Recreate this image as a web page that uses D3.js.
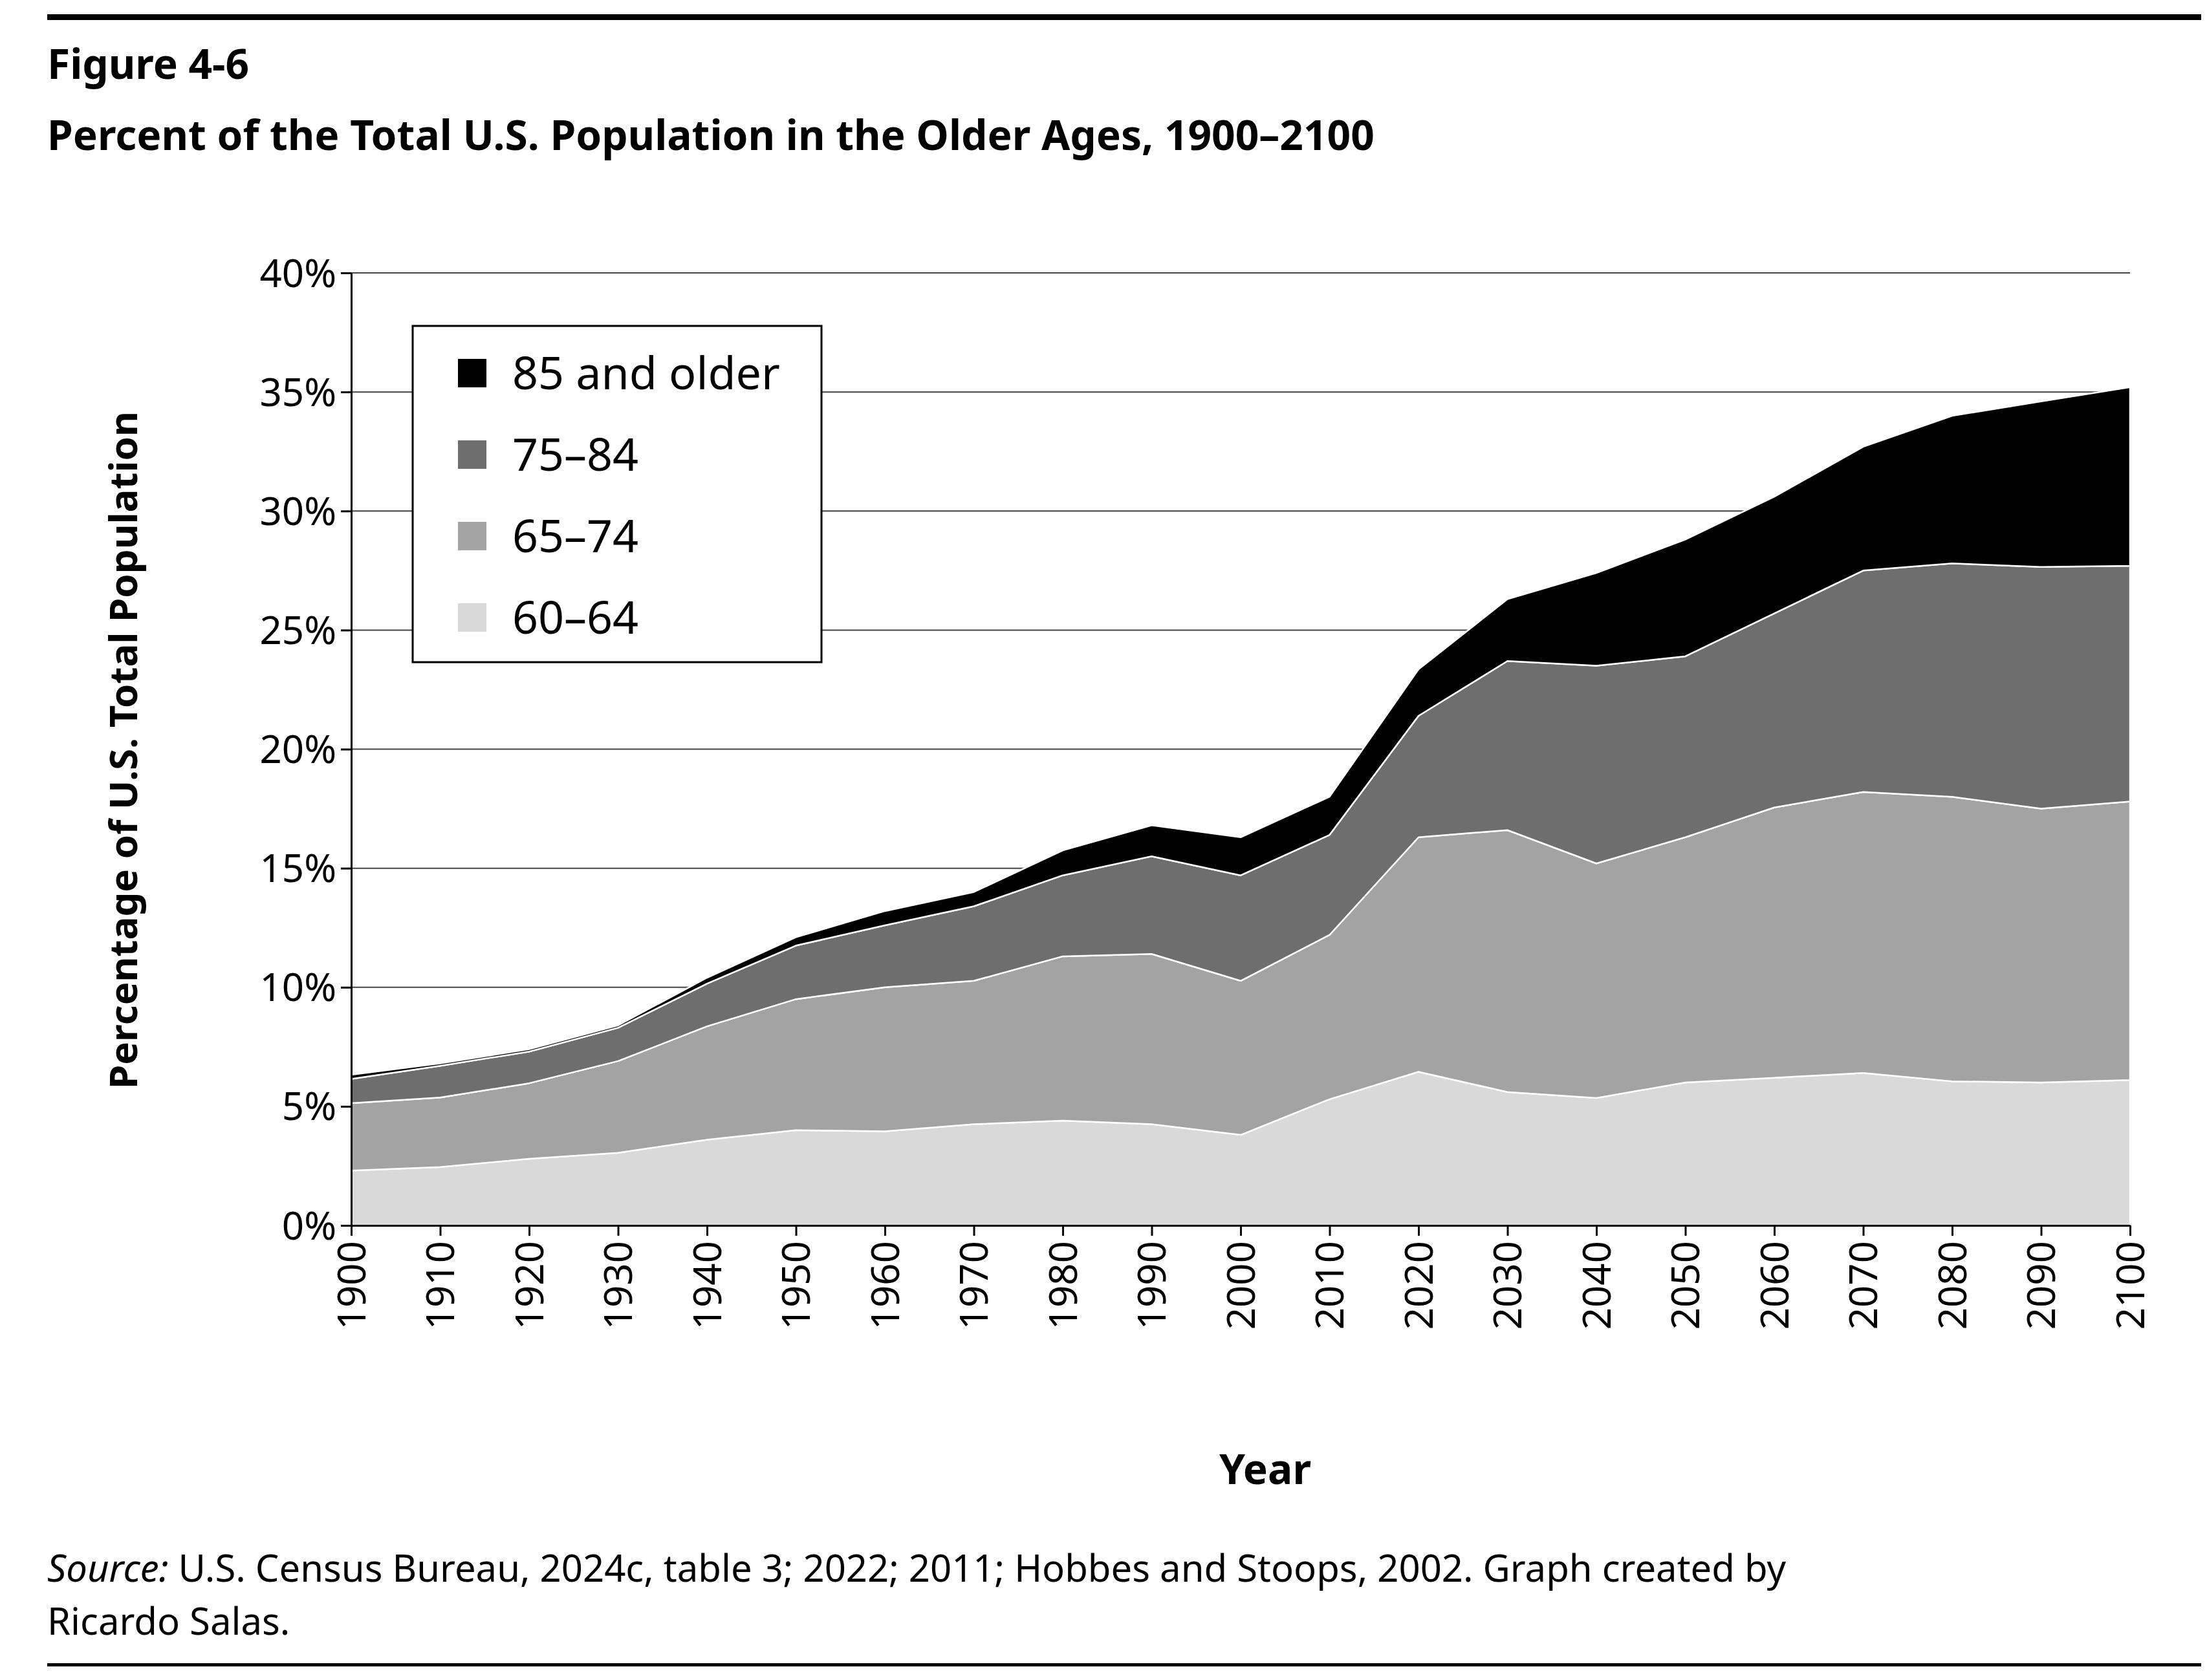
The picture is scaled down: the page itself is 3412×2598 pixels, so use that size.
<!DOCTYPE html>
<html><head><meta charset="utf-8">
<script src="https://cdn.jsdelivr.net/npm/d3@7"></script>
<style>body{margin:0;background:#fff}svg{display:block}text{font-family:"Noto Sans",sans-serif}</style>
</head><body>
<svg id="c" width="3412" height="2598"></svg>
<script>
// values (share of total population, %)
const years = [1900,1910,1920,1930,1940,1950,1960,1970,1980,1990,2000,2010,2020,2030,2040,2050,2060,2070,2080,2090,2100];
const age60_64 = [2.3,2.45,2.8,3.05,3.6,4.0,3.95,4.25,4.4,4.25,3.8,5.3,6.45,5.6,5.35,6.0,6.2,6.4,6.05,6.0,6.1];
const age65_74 = [2.83,2.92,3.17,3.85,4.76,5.5,6.05,6.02,6.9,7.15,6.47,6.9,9.85,11.0,9.85,10.3,11.35,11.8,11.95,11.5,11.7];
const age75_84 = [1.02,1.33,1.33,1.4,1.79,2.25,2.6,3.13,3.4,4.1,4.43,4.2,5.1,7.1,8.3,7.6,8.15,9.3,9.8,10.15,9.9];
const age85up  = [0.18,0.1,0.1,0.1,0.25,0.35,0.6,0.6,1.05,1.3,1.6,1.6,1.95,2.6,3.9,4.9,4.9,5.2,6.2,6.95,7.5];
const yTicks = [0,5,10,15,20,25,30,35,40];

const groups = [
  {key:"g60", label:"60–64", color:"#d9d9d9", vals:age60_64},
  {key:"g65", label:"65–74", color:"#a3a3a3", vals:age65_74},
  {key:"g75", label:"75–84", color:"#6e6e6e", vals:age75_84},
  {key:"g85", label:"85 and older", color:"#000000", vals:age85up}
];
const table = years.map((y,i) => {
  const r = {year:y};
  groups.forEach(g => r[g.key] = g.vals[i]);
  return r;
});

const svg = d3.select("#c");
const L = 543, R = 3293, T = 422, B = 1895;
const x = d3.scaleLinear().domain([1900,2100]).range([L,R]);
const y = d3.scaleLinear().domain([0,40]).range([B,T]);

// rules and titles
svg.append("rect").attr("x",73).attr("y",22).attr("width",3330).attr("height",9).attr("fill","#000");
svg.append("rect").attr("x",73).attr("y",2572).attr("width",3330).attr("height",5).attr("fill","#000");
svg.append("text").attr("x",73).attr("y",122).attr("font-size",64).attr("font-weight","bold").text("Figure 4-6");
svg.append("text").attr("x",73).attr("y",232).attr("font-size",64).attr("font-weight","bold")
  .text("Percent of the Total U.S. Population in the Older Ages, 1900–2100");

// grid
svg.append("g").selectAll("line").data(yTicks.slice(1)).join("line")
  .attr("x1",L).attr("x2",R).attr("y1",d=>y(d)).attr("y2",d=>y(d))
  .attr("stroke","#444").attr("stroke-width",2);

// areas
const stack = d3.stack().keys(groups.map(g=>g.key))(table);
const area = d3.area().x(d=>x(d.data.year)).y0(d=>y(d[0])).y1(d=>y(d[1]));
svg.append("g").selectAll("path").data(stack).join("path")
  .attr("d",area).attr("fill",(d,i)=>groups[i].color)
  .attr("stroke","#fff").attr("stroke-width",2.5).attr("stroke-linejoin","round");

// axes
const yAxis = svg.append("g").attr("transform",`translate(${L},0)`)
  .call(d3.axisLeft(y).tickValues(yTicks).tickFormat(d=>d+"%").tickSize(16).tickSizeOuter(0));
yAxis.selectAll("text").attr("font-size",60).attr("fill","#000").attr("dx",-4).attr("dy","0.35em");
const xAxis = svg.append("g").attr("transform",`translate(0,${B})`)
  .call(d3.axisBottom(x).tickValues(years).tickFormat(d3.format("d")).tickSize(16).tickSizeOuter(0));
xAxis.selectAll("text").attr("font-size",60).attr("fill","#000")
  .attr("transform","rotate(-90)").attr("text-anchor","end").attr("x",-24).attr("y",0).attr("dy","0.35em");
svg.selectAll(".domain,.tick line").attr("stroke","#000").attr("stroke-width",3);

svg.append("text").attr("transform",`translate(212,1160) rotate(-90)`).attr("text-anchor","middle")
  .attr("font-size",60).attr("font-weight","bold").text("Percentage of U.S. Total Population");
svg.append("text").attr("x",1956).attr("y",2295).attr("text-anchor","middle")
  .attr("font-size",64).attr("font-weight","bold").text("Year");

// legend
const lg = svg.append("g");
lg.append("rect").attr("x",638).attr("y",504).attr("width",632).attr("height",520)
  .attr("fill","#fff").attr("stroke","#000").attr("stroke-width",3);
const rows = groups.slice().reverse();
const rowY = d3.scalePoint().domain(rows.map(g=>g.key)).range([577,955]);
lg.selectAll("rect.sw").data(rows).join("rect").attr("class","sw")
  .attr("x",708).attr("y",d=>rowY(d.key)-22).attr("width",44).attr("height",44).attr("fill",d=>d.color);
lg.selectAll("text").data(rows).join("text")
  .attr("x",792).attr("y",d=>rowY(d.key)).attr("dy","0.35em").attr("font-size",70).text(d=>d.label);

// source
const src = svg.append("text").attr("x",73).attr("y",2446).attr("font-size",58);
src.append("tspan").attr("font-style","italic").text("Source:");
src.append("tspan").text(" U.S. Census Bureau, 2024c, table 3; 2022; 2011; Hobbes and Stoops, 2002. Graph created by");
svg.append("text").attr("x",73).attr("y",2528).attr("font-size",58).text("Ricardo Salas.");
</script>
</body></html>
